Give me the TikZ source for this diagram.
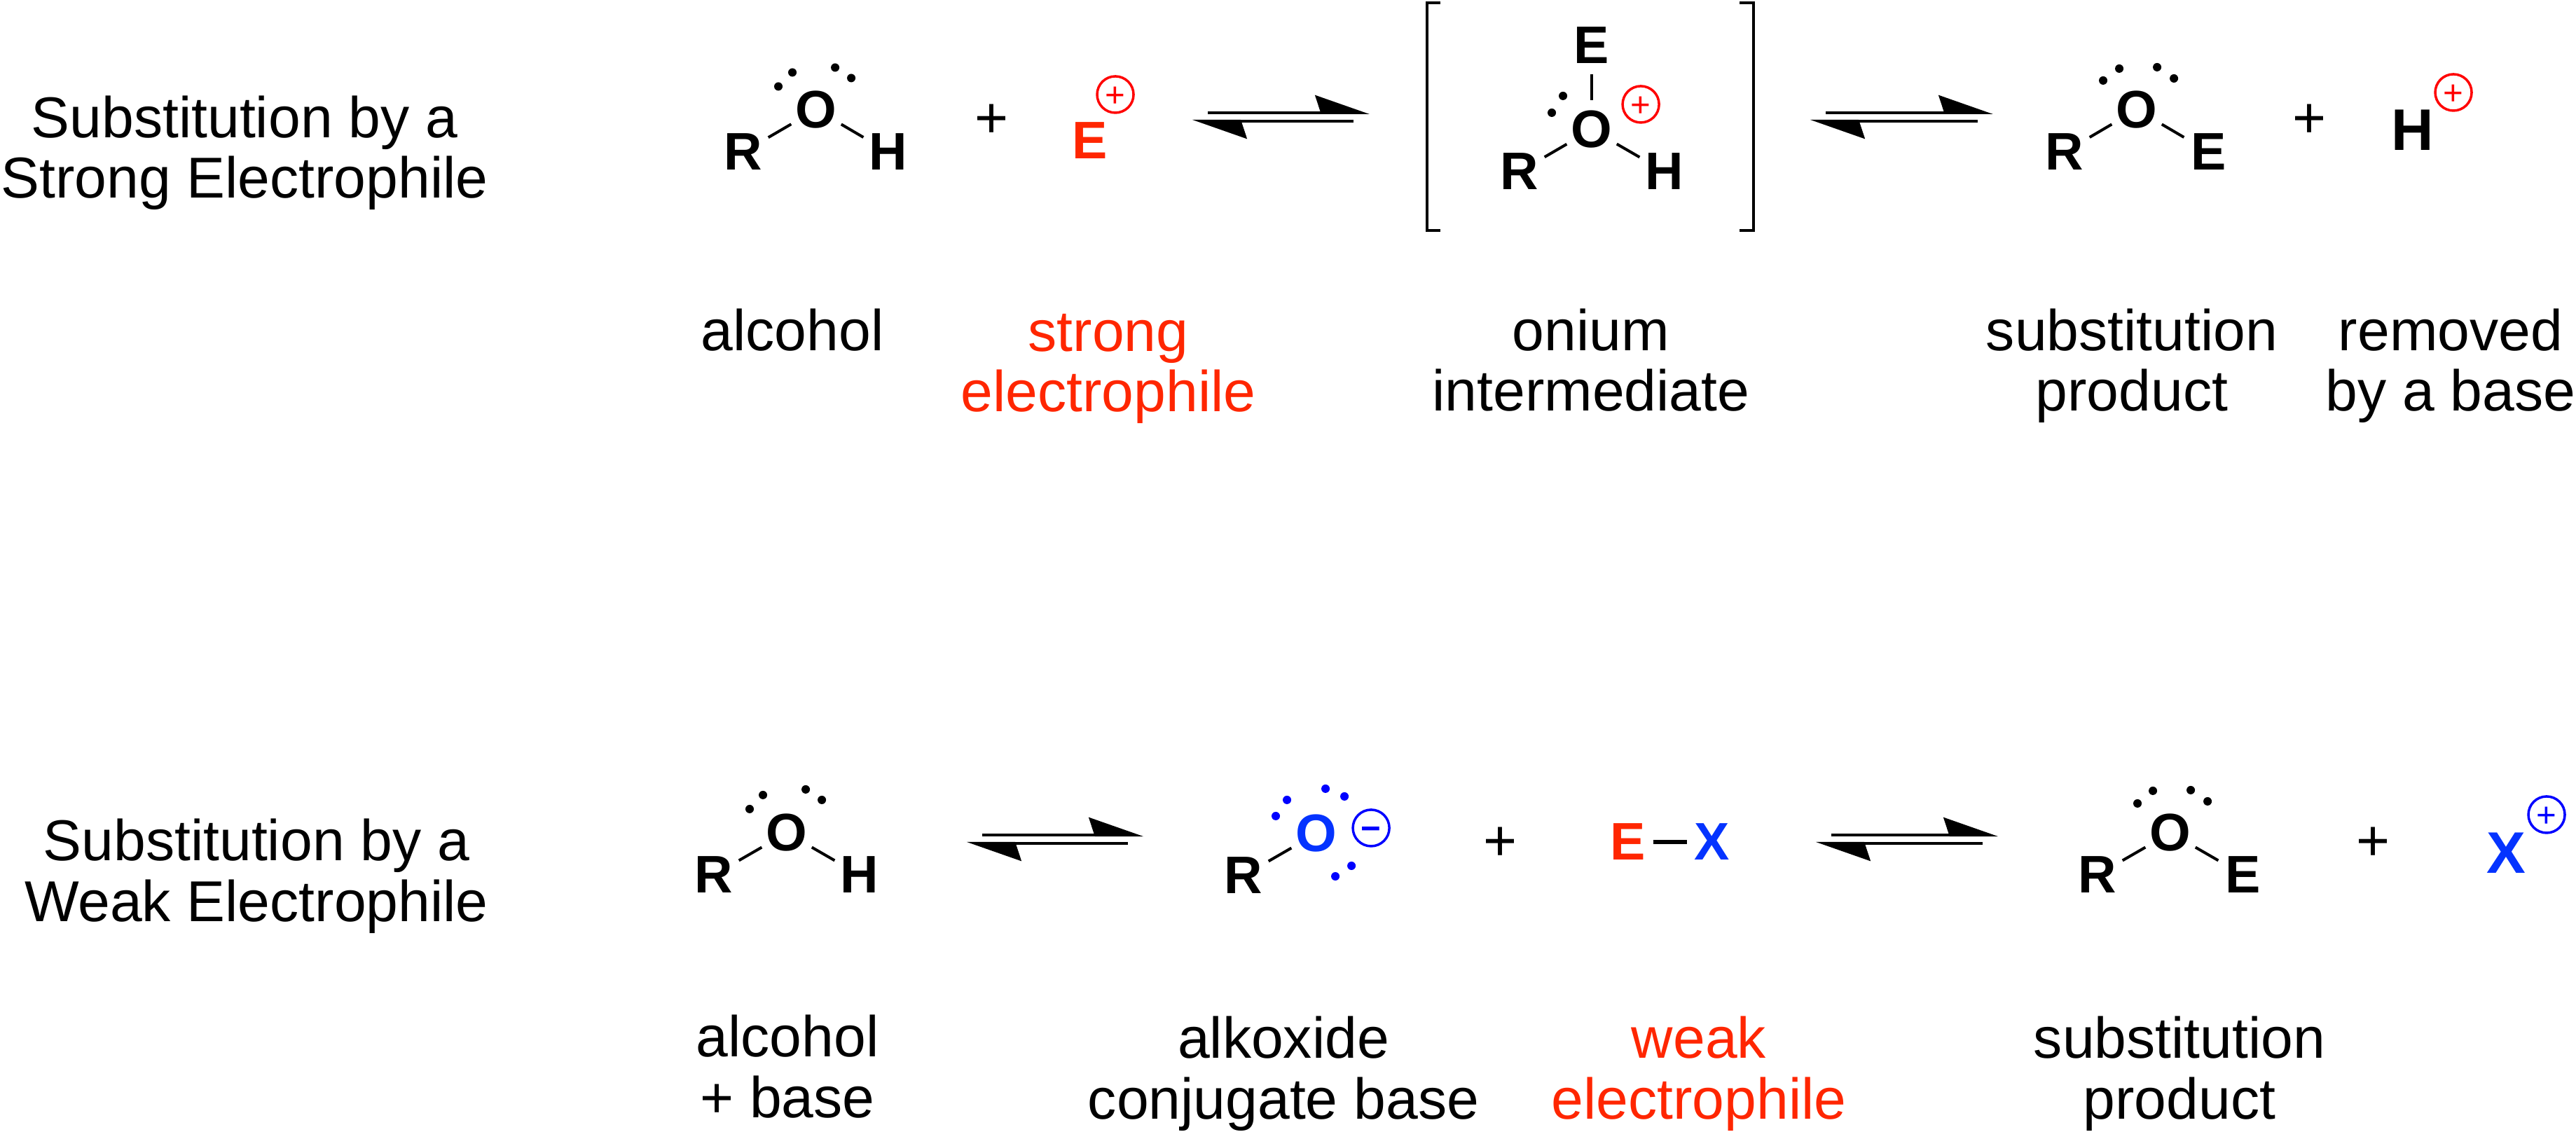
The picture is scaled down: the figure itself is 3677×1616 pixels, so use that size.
\documentclass[tikz,border=0pt]{standalone}
\usepackage{fontspec}
\setmainfont{Liberation Sans}
\usetikzlibrary{arrows.meta, positioning}
\definecolor{elecred}{RGB}{255,38,0}
\definecolor{nucblue}{RGB}{4,51,255}
\definecolor{chgblue}{RGB}{0,0,255}
\newcommand{\midglyph}[1]{\raisebox{-.355em}[0pt][0pt]{#1}}
\tikzset{
    atom/.style={font=\bfseries\fontsize{21.45}{24}\selectfont, inner sep=0pt, minimum width=0.7cm, minimum height=0.6cm},
    bigatom/.style={font=\bfseries\fontsize{23.8}{26}\selectfont, inner sep=0pt},
    lone/.style={circle, fill=black, inner sep=0pt, minimum size=0.12cm},
    charge/.style={circle, draw=red, text=red, line width=0.035cm, inner sep=0pt, minimum size=0.52cm, font=\fontsize{14}{14}\selectfont},
    plussign/.style={font=\fontsize{23.4}{24}\selectfont, inner sep=0pt},
    lbl/.style={font=\fontsize{23.4}{24.7}\selectfont, align=center, inner sep=0pt, anchor=base},
    bond/.style={line width=0.04cm},
    halfarrow/.style={line width=0.04cm, -{Stealth[harpoon, length=0.72cm, width=0.5cm, inset=0.08cm]}},
    bracket/.style={line width=0.04cm}
}
\begin{document}
\begin{tikzpicture}[x=0.01cm, y=-0.01cm, on grid]
    \useasboundingbox (0,0) rectangle (3677,1616);

    % strong electrophile row
    \node[lbl] (title1) at (349,283) {Substitution by a\\Strong Electrophile};

    \node[atom] (R1) at (1061,217) {R};
    \node[atom, above right=0.605cm and 1.04cm of R1] (O1) {O};
    \node[atom, right=2.07cm of R1] (H1) {H};
    \node[lone, above left=0.33cm and 0.54cm of O1] (d11) {};
    \node[lone, above left=0.53cm and 0.34cm of O1] (d12) {};
    \node[lone, above right=0.60cm and 0.27cm of O1] (d13) {};
    \node[lone, above right=0.45cm and 0.50cm of O1] (d14) {};
    \draw[bond] (R1) -- (O1);
    \draw[bond] (O1) -- (H1);

    \node[plussign] (plus1) at (1416,167) {\midglyph{+}};
    \node[atom, text=elecred] (E1) at (1556,201) {E};
    \node[charge, above right=0.66cm and 0.36cm of E1] (c1) {\midglyph{+}};

    \coordinate (a1s) at (1724,161);
    \coordinate (a1e) at (1955,161);
    \coordinate (b1s) at (1932,173);
    \coordinate (b1e) at (1702,173);
    \draw[halfarrow] (a1s) -- (a1e);
    \draw[halfarrow] (b1s) -- (b1e);

    \coordinate (brL1) at (2056,4);
    \coordinate (brL2) at (2037,4);
    \coordinate (brL3) at (2037,329);
    \coordinate (brL4) at (2056,329);
    \coordinate (brR1) at (2483,4);
    \coordinate (brR2) at (2503,4);
    \coordinate (brR3) at (2503,329);
    \coordinate (brR4) at (2483,329);
    \draw[bracket] (brL1) -- (brL2) -- (brL3) -- (brL4);
    \draw[bracket] (brR1) -- (brR2) -- (brR3) -- (brR4);

    \node[atom] (R2) at (2169,245) {R};
    \node[atom, above right=0.60cm and 1.03cm of R2] (O2) {O};
    \node[atom, right=2.07cm of R2] (H2) {H};
    \node[atom, above=1.20cm of O2] (E2) {E};
    \node[lone, above left=0.48cm and 0.41cm of O2] (d21) {};
    \node[lone, above left=0.24cm and 0.57cm of O2] (d22) {};
    \node[charge, above right=0.36cm and 0.70cm of O2] (c2) {\midglyph{+}};
    \draw[bond] (R2) -- (O2);
    \draw[bond] (O2) -- (H2);
    \draw[bond, shorten <=0.1cm, shorten >=0.11cm] (E2) -- (O2);

    \coordinate (a2s) at (2606,161);
    \coordinate (a2e) at (2845,161);
    \coordinate (b2s) at (2823,173);
    \coordinate (b2e) at (2584,173);
    \draw[halfarrow] (a2s) -- (a2e);
    \draw[halfarrow] (b2s) -- (b2e);

    \node[atom] (R3) at (2947,217) {R};
    \node[atom, above right=0.605cm and 1.03cm of R3] (O3) {O};
    \node[atom, right=2.06cm of R3] (E3) {E};
    \node[lone, above left=0.415cm and 0.48cm of O3] (d31) {};
    \node[lone, above left=0.585cm and 0.25cm of O3] (d32) {};
    \node[lone, above right=0.605cm and 0.29cm of O3] (d33) {};
    \node[lone, above right=0.445cm and 0.53cm of O3] (d34) {};
    \draw[bond] (R3) -- (O3);
    \draw[bond] (O3) -- (E3);

    \node[plussign] (plus2) at (3297,167) {\midglyph{+}};
    \node[bigatom] (H3) at (3444,186) {H};
    \node[charge, above right=0.54cm and 0.58cm of H3] (c3) {\midglyph{+}};

    \node[lbl] (alc1) at (1131,501) {alcohol};
    \node[lbl, text=elecred] (str1) at (1582,588) {strong\\electrophile};
    \node[lbl] (oni1) at (2271,587) {onium\\intermediate};
    \node[lbl] (sub1) at (3043,587) {substitution\\product};
    \node[lbl] (rem1) at (3498,587) {removed\\by a base};

    % weak electrophile row
    \node[lbl] (title2) at (366,1315) {Substitution by a\\Weak Electrophile};

    \node[atom] (R4) at (1019,1249) {R};
    \node[atom, above right=0.60cm and 1.04cm of R4] (O4) {O};
    \node[atom, right=2.08cm of R4] (H4) {H};
    \node[lone, above left=0.34cm and 0.53cm of O4] (d41) {};
    \node[lone, above left=0.54cm and 0.34cm of O4] (d42) {};
    \node[lone, above right=0.62cm and 0.27cm of O4] (d43) {};
    \node[lone, above right=0.47cm and 0.50cm of O4] (d44) {};
    \draw[bond] (R4) -- (O4);
    \draw[bond] (O4) -- (H4);

    \coordinate (a3s) at (1402,1192);
    \coordinate (a3e) at (1632,1192);
    \coordinate (b3s) at (1610,1204);
    \coordinate (b3e) at (1380,1204);
    \draw[halfarrow] (a3s) -- (a3e);
    \draw[halfarrow] (b3s) -- (b3e);

    \node[atom] (R5) at (1775,1250) {R};
    \node[atom, text=nucblue, above right=0.60cm and 1.04cm of R5] (O5) {O};
    \node[lone, fill=chgblue, above left=0.25cm and 0.58cm of O5] (d51) {};
    \node[lone, fill=chgblue, above left=0.48cm and 0.42cm of O5] (d52) {};
    \node[lone, fill=chgblue, above right=0.64cm and 0.13cm of O5] (d53) {};
    \node[lone, fill=chgblue, above right=0.53cm and 0.40cm of O5] (d54) {};
    \node[lone, fill=chgblue, below right=0.46cm and 0.50cm of O5] (d55) {};
    \node[lone, fill=chgblue, below right=0.61cm and 0.27cm of O5] (d56) {};
    \node[charge, draw=chgblue, text=chgblue, font=\bfseries\fontsize{14}{14}\selectfont, above right=0.08cm and 0.78cm of O5] (c5) {\midglyph{−}};
    \draw[bond] (R5) -- (O5);

    \node[plussign] (plus3) at (2142,1199) {\midglyph{+}};
    \node[atom, text=elecred] (E6) at (2324,1202) {E};
    \node[atom, text=nucblue, right=1.20cm of E6] (X6) {X};
    \draw[line width=0.05cm] (E6) -- (X6);

    \coordinate (a4s) at (2614,1192);
    \coordinate (a4e) at (2852,1192);
    \coordinate (b4s) at (2830,1204);
    \coordinate (b4e) at (2592,1204);
    \draw[halfarrow] (a4s) -- (a4e);
    \draw[halfarrow] (b4s) -- (b4e);

    \node[atom] (R7) at (2994,1249) {R};
    \node[atom, above right=0.60cm and 1.04cm of R7] (O7) {O};
    \node[atom, right=2.08cm of R7] (E7) {E};
    \node[lone, above left=0.42cm and 0.47cm of O7] (d71) {};
    \node[lone, above left=0.60cm and 0.25cm of O7] (d72) {};
    \node[lone, above right=0.61cm and 0.29cm of O7] (d73) {};
    \node[lone, above right=0.45cm and 0.53cm of O7] (d74) {};
    \draw[bond] (R7) -- (O7);
    \draw[bond] (O7) -- (E7);

    \node[plussign] (plus4) at (3387,1199) {\midglyph{+}};
    \node[bigatom, text=nucblue] (X7) at (3577,1218) {X};
    \node[charge, draw=chgblue, text=chgblue, above right=0.55cm and 0.58cm of X7] (c7) {\midglyph{+}};

    \node[lbl] (alc2) at (1124,1595) {alcohol\\+ base};
    \node[lbl] (alk2) at (1832,1597) {alkoxide\\conjugate base};
    \node[lbl, text=elecred] (wea2) at (2425,1597) {weak\\electrophile};
    \node[lbl] (sub2) at (3111,1597) {substitution\\product};
\end{tikzpicture}
\end{document}
